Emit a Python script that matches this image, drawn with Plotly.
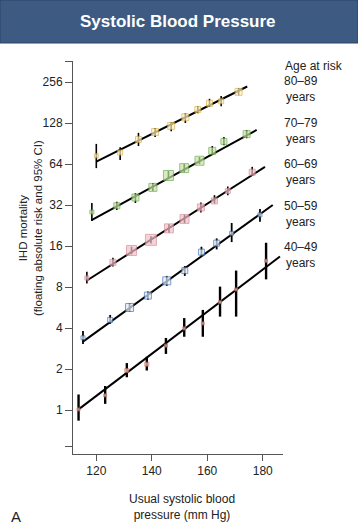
import plotly.graph_objects as go
import numpy as np

# ---------------- data ----------------
age_groups = ["80\u201389", "70\u201379", "60\u201369", "50\u201359", "40\u201349"]

sbp_80 = [120, 128.6, 135.2, 141.2, 147, 152.1, 156.6, 160.8, 165, 171.3]
risk_80 = [73.5, 77.7, 97, 109.9, 121.9, 141, 160.9, 178.5, 184.8, 216.7]
lo_80 = [59.7, 68.6, 86.8, 101, 111.4, 128, 151, 167.7, 170, 205]
hi_80 = [89.9, 85, 108.4, 117.8, 129.8, 151.2, 170, 192.7, 202, 230.7]
fit_x_80 = [120, 174.4]
fit_y_80 = [66.7, 237.2]

sbp_70 = [118.4, 127.4, 134.1, 140.4, 146, 151.7, 157.2, 161.8, 166, 174.2]
risk_70 = [28.4, 31.6, 36.3, 43.1, 52.7, 59.7, 67.6, 79.9, 93.7, 106.1]
lo_70 = [24.4, 29.4, 33.1, 40.5, 49.5, 55.7, 64, 74.5, 88, 99]
hi_70 = [33.1, 33.8, 39.1, 46.5, 56.9, 64, 72, 86.8, 101, 113.8]
fit_x_70 = [118.3, 177.8]
fit_y_70 = [24.8, 113.8]

sbp_60 = [116.6, 126, 132.7, 139.7, 146.2, 151.8, 157.7, 162.6, 167.4, 176.2]
risk_60 = [9.32, 12.13, 14.83, 17.75, 21.56, 25.28, 30.7, 34.3, 40.5, 55.7]
lo_60 = [8.5, 11.3, 13.9, 16.7, 20.1, 23.6, 28.2, 32.9, 37.8, 53.1]
hi_60 = [10.35, 13.1, 15.8, 18.9, 23.1, 27.1, 33.4, 37.8, 43.7, 61]
fit_x_60 = [116.9, 180.8]
fit_y_60 = [9.0, 61]

sbp_50 = [115.2, 125, 132, 138.6, 145.4, 151.9, 157.9, 163.4, 168.8, 179]
risk_50 = [3.39, 4.59, 5.66, 6.92, 8.88, 10.56, 14.42, 16.8, 19.84, 27.1]
lo_50 = [3.05, 4.29, 5.28, 6.46, 8.16, 9.65, 13.4, 15.1, 17.1, 24.1]
hi_50 = [3.81, 4.99, 6.06, 7.42, 9.65, 11.4, 15.8, 18.2, 23.6, 29.9]
fit_x_50 = [115.2, 183.6]
fit_y_50 = [3.18, 32]

sbp_40 = [113.6, 123.2, 131, 138.2, 145.1, 151.7, 158.4, 164.6, 170.4, 181.2]
risk_40 = [1.01, 1.28, 1.95, 2.17, 2.97, 3.97, 4.32, 6.19, 7.67, 12.47]
lo_40 = [0.835, 1.11, 1.74, 1.95, 2.58, 3.45, 3.45, 4.85, 4.85, 9.1]
hi_40 = [1.30, 1.50, 2.21, 2.46, 3.38, 4.73, 5.43, 8.05, 10.56, 16.9]
fit_x_40 = [113.6, 186.2]
fit_y_40 = [1.01, 13.4]

y_tick_values = [1, 2, 4, 8, 16, 32, 64, 128, 256]
y_tick_labels = ["1", "2", "4", "8", "16", "32", "64", "128", "256"]
x_tick_values = [120, 140, 160, 180]

# ---------------- styles ----------------
marker_sizes = {
    "80": [4, 5, 6, 7, 7, 7, 6, 6, 5, 7],
    "70": [4, 6, 7, 8, 10, 9, 9, 7, 6, 7],
    "60": [4, 6, 10, 11, 9, 9, 7, 6, 5, 6],
    "50": [4, 5, 8, 7, 8, 6, 6, 6, 4, 4],
    "40": [3, 3, 4, 4, 3, 3, 3, 3, 3, 3],
}
fills = {"80": "#fdf0bf", "70": "#c6e4a2", "60": "#f3bfc7", "50": "#e3ecf9", "40": "#f5d9d2"}
edges = {"80": "#d9b247", "70": "#6aaa4e", "60": "#d48a98", "50": "#4373b5", "40": "#c8705f"}
err_w = {"80": 1.6, "70": 1.6, "60": 1.6, "50": 1.8, "40": 2.4}

series = [
    ("80", sbp_80, risk_80, lo_80, hi_80, fit_x_80, fit_y_80),
    ("70", sbp_70, risk_70, lo_70, hi_70, fit_x_70, fit_y_70),
    ("60", sbp_60, risk_60, lo_60, hi_60, fit_x_60, fit_y_60),
    ("50", sbp_50, risk_50, lo_50, hi_50, fit_x_50, fit_y_50),
    ("40", sbp_40, risk_40, lo_40, hi_40, fit_x_40, fit_y_40),
]

FONT = "Liberation Sans, Arial, Helvetica, sans-serif"
W, H = 358, 524
L, R, T, B = 73, 283, 61, 454

def px_x(p):
    return (p - L) / (R - L)

def px_y(p):
    return (B - p) / (B - T)

fig = go.Figure()
for key, xs, ys, lo, hi, fx, fy in series:
    fig.add_trace(go.Scatter(x=fx, y=fy, mode="lines",
                             line=dict(color="black", width=2),
                             showlegend=False, hoverinfo="skip"))
for key, xs, ys, lo, hi, fx, fy in series:
    ys_a = np.array(ys)
    fig.add_trace(go.Scatter(
        x=xs, y=ys, mode="markers", showlegend=False,
        marker=dict(symbol="square", size=marker_sizes[key], color=fills[key],
                    line=dict(color=edges[key], width=1)),
        error_y=dict(type="data", symmetric=False,
                     array=list(np.array(hi) - ys_a),
                     arrayminus=list(ys_a - np.array(lo)),
                     color="black", thickness=err_w[key], width=0),
    ))

ylo = 2 ** ((410 - 454) / 41)
yhi = 2 ** ((410 - 61) / 41)
fig.update_yaxes(type="log", range=[np.log10(ylo), np.log10(yhi)],
                 tickvals=[2 ** -0.9] + y_tick_values + [2 ** 8.5],
                 ticktext=[""] + y_tick_labels + [""],
                 ticks="outside", ticklen=7, tickwidth=1, tickcolor="#555",
                 showline=True, linecolor="#555", linewidth=1,
                 showgrid=False, zeroline=False,
                 tickfont=dict(family=FONT, size=12, color="#222"))
fig.update_xaxes(range=[111.6, 187.3], tickvals=x_tick_values,
                 ticks="outside", ticklen=6, tickwidth=1, tickcolor="#555",
                 showline=True, linecolor="#555", linewidth=1,
                 showgrid=False, zeroline=False,
                 tickfont=dict(family=FONT, size=12, color="#222"))

shapes = [dict(type="rect", xref="paper", yref="paper",
               x0=px_x(0), x1=px_x(358), y0=px_y(43), y1=px_y(0),
               fillcolor="#3d5b82", line=dict(color="#2c4465", width=1), layer="below")]

ann = []
def text(x, y, s, size=12, color="#222", xanchor="center", bold=False, angle=0):
    ann.append(dict(x=px_x(x), y=px_y(y), xref="paper", yref="paper", text=s,
                    showarrow=False, xanchor=xanchor, yanchor="middle",
                    textangle=angle, align="center",
                    font=dict(family=FONT, size=size, color=color)))

text(178, 22, "<b>Systolic Blood Pressure</b>", size=17, color="white")
text(314, 66, "Age at risk")
for i, g in enumerate(age_groups):
    text(301, 89 + 41.5 * i, g + "<br>years")
text(30, 228, "IHD mortality<br>(floating absolute risk and 95% CI)", size=11.5, angle=-90)
text(182, 507, "Usual systolic blood<br>pressure (mm Hg)")
text(16, 516, "A", size=15)

fig.update_layout(width=W, height=H, margin=dict(l=L, r=W - R, t=T, b=H - B),
                  paper_bgcolor="white", plot_bgcolor="white",
                  shapes=shapes, annotations=ann, showlegend=False)
fig.write_html("out.html", config={"displayModeBar": False},
               post_script="document.body.style.margin='0';document.body.style.padding='0';")
